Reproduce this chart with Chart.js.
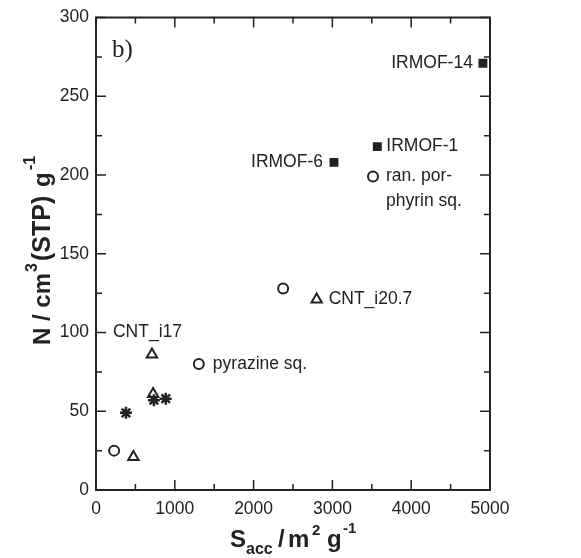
<!DOCTYPE html>
<html><head><meta charset="utf-8">
<script src="https://cdn.jsdelivr.net/npm/chart.js@4.4.1/dist/chart.umd.min.js"></script>
<style>html,body{margin:0;padding:0;background:#fff;}canvas{display:block;}</style>
</head><body>
<canvas id="c" width="581" height="558"></canvas>
<script>
// ---- data ----
const xTicks = [0, 1000, 2000, 3000, 4000, 5000];
const yTicks = [0, 50, 100, 150, 200, 250, 300];
const irmofX = [4910, 3570, 3020];
const irmofY = [271, 218, 208];
const circleX = [3515, 2375, 1305, 230];
const circleY = [199, 128, 80, 25];
const triX = [2800, 710, 725, 475];
const triY = [121, 86, 61, 21];
const starX = [735, 885, 380];
const starY = [57, 58, 49];
const pointLabels = [
  {text:'IRMOF-14', set:'irmof', i:0, dx:-10, dy:0, align:'right'},
  {text:'IRMOF-1', set:'irmof', i:1, dx:9, dy:0, align:'left'},
  {text:'IRMOF-6', set:'irmof', i:2, dx:-11, dy:0, align:'right'},
  {text:'ran. por-', set:'circle', i:0, dx:13, dy:0, align:'left'},
  {text:'phyrin sq.', set:'circle', i:0, dx:13, dy:25, align:'left'},
  {text:'CNT_i20.7', set:'tri', i:0, dx:12, dy:0, align:'left'},
  {text:'CNT_i17', set:'tri', i:1, dx:-39, dy:-22, align:'left'},
  {text:'pyrazine sq.', set:'circle', i:2, dx:14, dy:0, align:'left'}
];
const sets = {irmof:[irmofX,irmofY], circle:[circleX,circleY], tri:[triX,triY], star:[starX,starY]};
const ink = '#222';
const pts = (xs, ys) => xs.map((x, k) => ({x, y: ys[k]}));

const decor = {
  id: 'decor',
  afterDraw(chart) {
    const ctx = chart.ctx, a = chart.chartArea, sx = chart.scales.x, sy = chart.scales.y;
    ctx.save();
    ctx.strokeStyle = ink; ctx.lineWidth = 2;
    ctx.strokeRect(a.left, a.top, a.right - a.left, a.bottom - a.top);
    ctx.lineWidth = 1.5;
    // inward ticks, all four sides
    for (let v = 0; v <= 5000; v += 500) {
      const px = sx.getPixelForValue(v), L = (v % 1000 === 0) ? 10 : 6;
      ctx.beginPath(); ctx.moveTo(px, a.bottom); ctx.lineTo(px, a.bottom - L);
      ctx.moveTo(px, a.top); ctx.lineTo(px, a.top + L); ctx.stroke();
    }
    for (let v = 0; v <= 300; v += 25) {
      const py = sy.getPixelForValue(v), L = (v % 50 === 0) ? 10 : 6;
      ctx.beginPath(); ctx.moveTo(a.left, py); ctx.lineTo(a.left + L, py);
      ctx.moveTo(a.right, py); ctx.lineTo(a.right - L, py); ctx.stroke();
    }
    // point labels
    ctx.fillStyle = ink;
    ctx.font = '17.5px "Liberation Sans", Arial, sans-serif';
    ctx.textBaseline = 'middle';
    pointLabels.forEach(l => {
      const s = sets[l.set];
      const px = sx.getPixelForValue(s[0][l.i]) + l.dx;
      const py = sy.getPixelForValue(s[1][l.i]) + l.dy;
      ctx.textAlign = l.align;
      ctx.fillText(l.text, px, py);
    });
    // panel tag
    ctx.textAlign = 'left'; ctx.textBaseline = 'alphabetic';
    ctx.font = '25px "Liberation Serif", "DejaVu Serif", serif';
    ctx.fillText('b)', a.left + 16, a.top + 39);
    // rich text helper with explicit offsets along the baseline
    function rich(segs) {
      segs.forEach(s => {
        ctx.font = 'bold ' + s.size + 'px "Liberation Sans", Arial, sans-serif';
        ctx.fillText(s.t, s.at, s.rise || 0);
      });
    }
    // x title
    ctx.save();
    ctx.translate(230, 547);
    rich([
      {t:'S', size:24, at:0},
      {t:'acc', size:16, rise:7, at:16},
      {t:'/', size:24, at:48},
      {t:'m', size:24, at:58},
      {t:'2', size:15, rise:-12, at:82},
      {t:'g', size:24, at:97},
      {t:'-1', size:15, rise:-14, at:113}
    ]);
    ctx.restore();
    // y title
    ctx.save();
    ctx.translate(50, 345);
    ctx.rotate(-Math.PI / 2);
    rich([
      {t:'N / cm', size:24, at:0},
      {t:'3', size:16, rise:-13, at:73},
      {t:'(STP)', size:25, at:84},
      {t:'g', size:24, at:158},
      {t:'-1', size:16, rise:-15, at:175}
    ]);
    ctx.restore();
    ctx.restore();
  }
};

new Chart(document.getElementById('c'), {
  type: 'scatter',
  data: {
    datasets: [
      {data: pts(irmofX, irmofY), pointStyle: 'rect', pointRadius: 6.3, backgroundColor: ink, borderColor: ink, borderWidth: 0},
      {data: pts(circleX, circleY), pointStyle: 'circle', pointRadius: 5, backgroundColor: 'rgba(0,0,0,0)', borderColor: ink, borderWidth: 2},
      {data: pts(triX, triY), pointStyle: 'triangle', pointRadius: 6, backgroundColor: 'rgba(0,0,0,0)', borderColor: ink, borderWidth: 2},
      {data: pts(starX, starY), pointStyle: 'star', pointRadius: 6, backgroundColor: ink, borderColor: ink, borderWidth: 2.5}
    ]
  },
  options: {
    responsive: false, animation: false, devicePixelRatio: 1,
    layout: {padding: {left: 0, right: 91, top: 16, bottom: 0}},
    plugins: {legend: {display: false}, tooltip: {enabled: false}},
    elements: {point: {hoverRadius: 6}},
    scales: {
      x: {
        type: 'linear', min: 0, max: 5000,
        afterBuildTicks: s => { s.ticks = xTicks.map(v => ({value: v})); },
        afterFit: s => { s.height = 68; },
        grid: {display: false, drawTicks: false}, border: {display: false},
        ticks: {color: ink, padding: 9, callback: v => String(v), font: {family: '"Liberation Sans", Arial, sans-serif', size: 17.5}}
      },
      y: {
        type: 'linear', min: 0, max: 300,
        afterBuildTicks: s => { s.ticks = yTicks.map(v => ({value: v})); },
        afterFit: s => { s.width = 96; },
        grid: {display: false, drawTicks: false}, border: {display: false},
        ticks: {color: ink, padding: 7, callback: v => String(v), font: {family: '"Liberation Sans", Arial, sans-serif', size: 17.5}}
      }
    }
  },
  plugins: [decor]
});
</script>
</body></html>
